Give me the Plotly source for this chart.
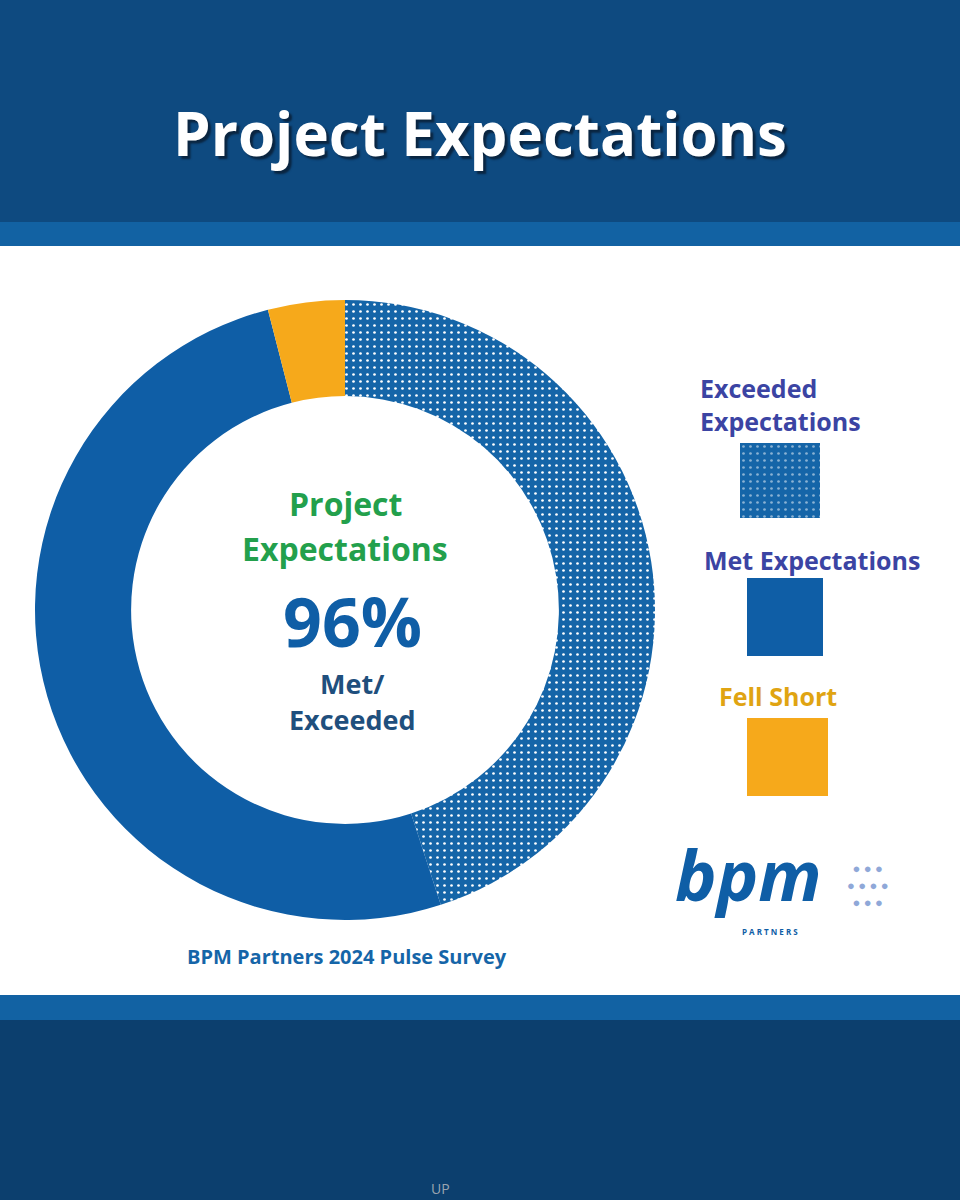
import plotly.graph_objects as go

# ==========================================
# 1. DONNÉES
# ==========================================
labels = ["Exceeded Expectations", "Met Expectations", "Fell Short"]
values = [45, 51, 4]
colors = ["#1565a8", "#0f5ea6", "#f6a91b"]
headline = "96%"

# ==========================================
# 2. FIGURE
# ==========================================
fig = go.Figure()

fig.add_trace(go.Pie(
    labels=labels,
    values=values,
    hole=0.69,
    sort=False,
    direction="clockwise",
    rotation=0,
    textinfo="none",
    marker=dict(
        colors=colors,
        pattern=dict(shape=[".", "", ""], fgcolor="white", bgcolor="#1565a8",
                     size=7, solidity=0.12),
    ),
    domain=dict(x=[35 / 960, 655 / 960], y=[1 - 920 / 1200, 1 - 300 / 1200]),
    showlegend=False,
))

# Carré de légende à motif (barre unique)
fig.add_trace(go.Bar(
    x=[labels[0]], y=[1], width=1,
    marker=dict(color="#1565a8",
                pattern=dict(shape=".", fgcolor="white", bgcolor="#1565a8",
                             size=7, solidity=0.12),
                line=dict(width=0)),
    xaxis="x2", yaxis="y2", showlegend=False, hoverinfo="skip",
))

fig.update_layout(
    width=960, height=1200,
    margin={"r": 0, "t": 0, "l": 0, "b": 0},
    paper_bgcolor="#0c3f6e",
    plot_bgcolor="rgba(0,0,0,0)",
    xaxis2=dict(domain=[740 / 960, 820 / 960], visible=False, range=[-0.5, 0.5]),
    yaxis2=dict(domain=[1 - 518 / 1200, 1 - 443 / 1200], visible=False, range=[0, 1]),
    font=dict(family="Open Sans"),
)

P = dict(xref="paper", yref="paper")
fig.update_layout(shapes=[
    dict(type="rect", x0=0, x1=1, y0=1 - 222 / 1200, y1=1, fillcolor="#0e4a80", line_width=0, layer="below", **P),
    dict(type="rect", x0=0, x1=1, y0=1 - 246 / 1200, y1=1 - 222 / 1200, fillcolor="#1262a3", line_width=0, layer="below", **P),
    dict(type="rect", x0=0, x1=1, y0=1 - 995 / 1200, y1=1 - 246 / 1200, fillcolor="white", line_width=0, layer="below", **P),
    dict(type="rect", x0=0, x1=1, y0=1 - 1020 / 1200, y1=1 - 995 / 1200, fillcolor="#1262a3", line_width=0, layer="below", **P),
    dict(type="rect", x0=747 / 960, x1=823 / 960, y0=1 - 656 / 1200, y1=1 - 578 / 1200, fillcolor=colors[1], line_width=0, **P),
    dict(type="rect", x0=747 / 960, x1=828 / 960, y0=1 - 796 / 1200, y1=1 - 718 / 1200, fillcolor=colors[2], line_width=0, **P),
])

def txt(x, y, s, size, color, anchor="center", weight="bold", family="Open Sans"):
    fig.add_annotation(x=x / 960, y=1 - y / 1200, text=s, showarrow=False, xanchor=anchor,
                       yanchor="middle", font=dict(size=size, color=color, family=family, weight=weight), **P)

fig.add_annotation(x=0.5, y=1 - 133 / 1200, text="<b>Project Expectations</b>", showarrow=False,
                   yanchor="middle",
                   font=dict(size=60, color="white", family="Open Sans", shadow="3px 3px 2px #0a2540"), **P)
txt(345, 503, "Project", 32, "#23a04c")
txt(345, 548, "Expectations", 32, "#23a04c")
txt(352, 620, headline, 68, "#0f5ea6")
txt(352, 684, "Met/", 27, "#1f4f7d")
txt(352, 719, "Exceeded", 27, "#1f4f7d")
txt(698, 388, "Exceeded", 25, "#3b44a3", anchor="left")
txt(698, 421, "Expectations", 25, "#3b44a3", anchor="left")
txt(702, 560, "Met Expectations", 25, "#3b44a3", anchor="left")
txt(717, 696, "Fell Short", 25, "#e0a412", anchor="left")
txt(347, 956, "BPM Partners 2024 Pulse Survey", 20, "#1565a8")
txt(748, 874, "<i>bpm</i>", 70, "#0f5ea6")
txt(770, 932, "P A R T N E R S", 8, "#0f5ea6")
txt(868, 885, "● ● ●<br>● ● ● ●<br>● ● ●", 13, "#8fa8d8")
txt(440, 1188, "UP", 14, "#9aa4b0", weight="normal")

fig.write_html("out.html", config={"displayModeBar": False},
               post_script="document.body.style.margin='0';")
